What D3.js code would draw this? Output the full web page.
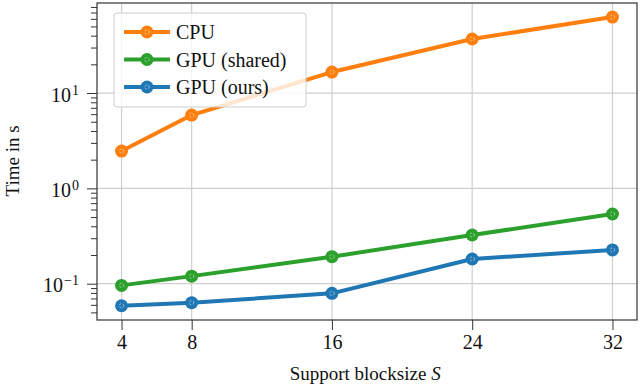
<!DOCTYPE html>
<html>
<head>
<meta charset="utf-8">
<script src="https://cdn.jsdelivr.net/npm/d3@7"></script>
<style>
  body { margin: 0; background: #fff; overflow: hidden; }
  svg { display: block; }
  svg text { font-family: "Liberation Serif", "DejaVu Serif", serif; }
</style>
</head>
<body>
<div id="chart"></div>
<script>

const blocksizes = [4, 8, 16, 24, 32];
const cpuTimes = [2.46, 5.87, 16.6, 36.9, 62.7];
const gpuSharedTimes = [0.096, 0.12, 0.192, 0.324, 0.538];
const gpuOursTimes = [0.0587, 0.0632, 0.0792, 0.1816, 0.226];
const seriesNames = ["CPU", "GPU (shared)", "GPU (ours)"];
const seriesColors = ["#ff7f0e", "#2ca02c", "#1f77b4"];
const yTickExps = [-1, 0, 1];

const width = 640, height = 385;
const margin = { top: 3, right: 3, bottom: 65, left: 97 };
const innerWidth = width - margin.left - margin.right;
const innerHeight = height - margin.top - margin.bottom;

const svg = d3.select("#chart")
    .append("svg")
    .attr("width", width)
    .attr("height", height);

const g = svg.append("g")
    .attr("transform", `translate(${margin.left},${margin.top})`);

const x = d3.scaleLinear()
    .domain([2.6, 33.4])
    .range([0, innerWidth]);

const y = d3.scaleLog()
    .domain([0.0416, 88])
    .range([innerHeight, 0]);

// minor ticks for log axis
const minorTicks = [];
for (let e = -2; e <= 1; e++) {
    for (let k = 2; k <= 9; k++) {
        const v = k * Math.pow(10, e);
        if (v >= y.domain()[0] && v <= y.domain()[1]) minorTicks.push(v);
    }
}
const majorTicks = yTickExps.map(e => Math.pow(10, e));

// grid
g.append("g").selectAll("line")
    .data(blocksizes)
    .enter().append("line")
    .attr("x1", d => x(d)).attr("x2", d => x(d))
    .attr("y1", 0).attr("y2", innerHeight)
    .attr("stroke", "#cfcfcf").attr("stroke-width", 1.2);

g.append("g").selectAll("line")
    .data(majorTicks)
    .enter().append("line")
    .attr("x1", 0).attr("x2", innerWidth)
    .attr("y1", d => y(d)).attr("y2", d => y(d))
    .attr("stroke", "#cfcfcf").attr("stroke-width", 1.2);

// x axis
const xAxis = g.append("g")
    .attr("transform", `translate(0,${innerHeight})`)
    .call(d3.axisBottom(x).tickValues(blocksizes).tickSize(10).tickPadding(5).tickFormat(d3.format("d")));
xAxis.attr("font-family", null).attr("font-size", null);
xAxis.select(".domain").remove();
xAxis.selectAll("line").attr("stroke", "#333");
xAxis.selectAll("text").style("font-size", "20px").attr("fill", "#111");

// y axis minor
const yMinor = g.append("g")
    .call(d3.axisLeft(y).tickValues(minorTicks).tickSize(6).tickFormat(""));
yMinor.select(".domain").remove();
yMinor.selectAll("line").attr("stroke", "#333");

// y axis major
const yAxis = g.append("g")
    .call(d3.axisLeft(y).tickValues(majorTicks).tickSize(10).tickFormat(""));
yAxis.attr("font-family", null).attr("font-size", null);
yAxis.select(".domain").remove();
yAxis.selectAll("line").attr("stroke", "#333");

// labels as 10 with a superscript exponent
yAxis.selectAll(".tick").each(function(d) {
    const e = Math.round(Math.log10(d));
    const expText = e < 0 ? "\u2212" + Math.abs(e) : String(e);
    const tick = d3.select(this);
    const exp = tick.append("text")
        .attr("x", -18)
        .attr("y", 1)
        .attr("text-anchor", "end")
        .attr("fill", "#111")
        .style("font-size", "14px")
        .text(expText);
    const w = exp.node().getComputedTextLength();
    tick.append("text")
        .attr("x", -18 - w - 1)
        .attr("y", 8)
        .attr("text-anchor", "end")
        .attr("fill", "#111")
        .style("font-size", "20px")
        .text("10");
});

// lines
const series = [cpuTimes, gpuSharedTimes, gpuOursTimes].map((vals, i) => ({
    name: seriesNames[i],
    color: seriesColors[i],
    values: blocksizes.map((b, j) => ({ x: b, y: vals[j] }))
}));

const line = d3.line().x(d => x(d.x)).y(d => y(d.y));

function marker(sel, cx, cy, color) {
    sel.append("circle")
        .attr("cx", cx).attr("cy", cy).attr("r", 6.5)
        .attr("fill", color);
    sel.append("circle")
        .attr("cx", cx).attr("cy", cy).attr("r", 2.2)
        .attr("fill", "none")
        .attr("stroke", "#fff")
        .attr("stroke-opacity", 0.6)
        .attr("stroke-width", 0.8)
        .attr("stroke-dasharray", "2,1.5");
}

series.slice().reverse().forEach(s => {
    g.append("path")
        .datum(s.values)
        .attr("fill", "none")
        .attr("stroke", s.color)
        .attr("stroke-width", 4)
        .attr("stroke-linejoin", "round")
        .attr("d", line);
    const mg = g.append("g");
    s.values.forEach(d => marker(mg, x(d.x), y(d.y), s.color));
});

// frame
g.append("rect")
    .attr("width", innerWidth).attr("height", innerHeight)
    .attr("fill", "none").attr("stroke", "#333").attr("stroke-width", 1.2);

// legend (drawn after lines so it fades them)
const legend = g.append("g").attr("transform", "translate(17,10)");
legend.append("rect")
    .attr("width", 192).attr("height", 94)
    .attr("rx", 3)
    .attr("fill", "#fff").attr("fill-opacity", 0.8)
    .attr("stroke", "#ccc").attr("stroke-width", 1);

series.forEach((s, i) => {
    const ly = 19 + i * 27.5;
    legend.append("line")
        .attr("x1", 10).attr("x2", 56)
        .attr("y1", ly).attr("y2", ly)
        .attr("stroke", s.color).attr("stroke-width", 4);
    marker(legend, 33, ly, s.color);
    legend.append("text")
        .attr("x", 62).attr("y", ly)
        .attr("dy", "0.35em")
        .attr("fill", "#111")
        .style("font-size", "20px")
        .text(s.name);
});

// axis labels
const xLabel = svg.append("g")
    .attr("transform", `translate(${margin.left + innerWidth / 2 - 3},${height - 5})`);
const xLabelMain = xLabel.append("text")
    .attr("text-anchor", "middle")
    .attr("x", -6)
    .attr("fill", "#111")
    .style("font-size", "19px")
    .text("Support blocksize");
const mainW = xLabelMain.node().getComputedTextLength();
xLabel.append("text")
    .attr("x", -6 + mainW / 2 + 5)
    .attr("fill", "#111")
    .style("font-size", "19px")
    .style("font-style", "italic")
    .text("S");

svg.append("text")
    .attr("text-anchor", "middle")
    .attr("transform", `translate(19,${margin.top + 158}) rotate(-90)`)
    .attr("fill", "#111")
    .style("font-size", "19px")
    .text("Time in s");

</script>
</body>
</html>
